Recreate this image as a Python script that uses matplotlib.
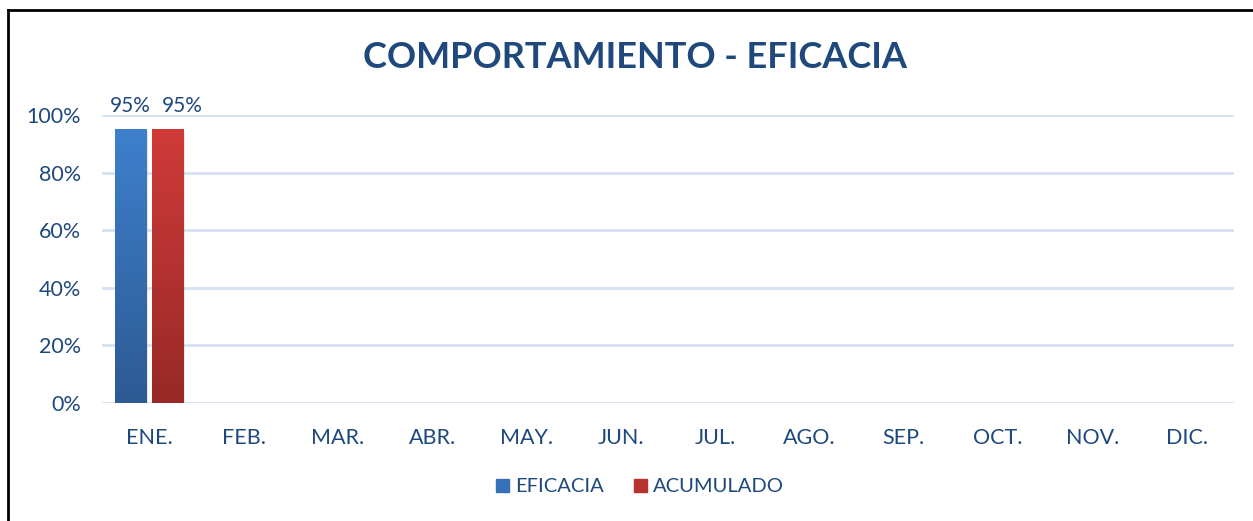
import numpy as np
import matplotlib
matplotlib.use('Agg')
from matplotlib import pyplot as plt
from matplotlib.patches import Rectangle
from matplotlib.colors import LinearSegmentedColormap

# data
months = ['ENE.', 'FEB.', 'MAR.', 'ABR.', 'MAY.', 'JUN.', 'JUL.', 'AGO.',
          'SEP.', 'OCT.', 'NOV.', 'DIC.']
eficacia = [0.95]
acumulado = [0.95]
series_names = ['EFICACIA', 'ACUMULADO']

TXT = '#1F497D'
plt.rcParams['font.family'] = ['Lato', 'DejaVu Sans']

fig = plt.figure(figsize=(12.53, 5.21), dpi=100)
ax = fig.add_axes([102 / 1253, 118 / 521, 1132 / 1253, 288 / 521])

# outer frame like the original sheet
fig.add_artist(plt.Line2D([8 / 1253, 8 / 1253], [0, 1 - 10 / 521],
                          transform=fig.transFigure, color='black', lw=2))
fig.add_artist(plt.Line2D([8 / 1253, 1], [1 - 10 / 521, 1 - 10 / 521],
                          transform=fig.transFigure, color='black', lw=2))

ax.set_xlim(-0.5, 11.5)
ax.set_ylim(0, 1.0)
for v in np.arange(0, 1.01, 0.2):
    ax.axhline(v, color='#D6E2F2', lw=2, zorder=0)

blue = LinearSegmentedColormap.from_list('b', ['#2D5A93', '#3E80CD'])
red = LinearSegmentedColormap.from_list('r', ['#972927', '#D03B39'])
width = 0.33
offsets = [-0.196, 0.19]
label_shift = [0.0, 0.16]   # excel nudged the second label to avoid overlap
grad = np.linspace(0, 1, 256).reshape(-1, 1)
for k, (vals, cmap) in enumerate([(eficacia, blue), (acumulado, red)]):
    off = offsets[k]
    for i, v in enumerate(vals):
        x0 = i + off - width / 2
        # faint shadow
        ax.add_patch(Rectangle((x0 + 0.02, -0.005), width, v, color='#BBBBBB',
                               alpha=0.35, lw=0, zorder=1))
        im = ax.imshow(grad, extent=(x0, x0 + width, 0, v), origin='lower',
                       cmap=cmap, aspect='auto', zorder=2)
        rect = Rectangle((x0, 0), width, v, transform=ax.transData,
                         fc='none', lw=0)
        ax.add_patch(rect)
        im.set_clip_path(rect)
        ax.text(i + off + label_shift[k], v + 0.045, '{:.0f}%'.format(v * 100),
                ha='center', va='bottom', fontsize=15, color=TXT)
ax.set_xlim(-0.5, 11.5)
ax.set_ylim(0, 1.0)

ax.set_xticks(range(len(months)))
ax.set_xticklabels(months)
ax.set_yticks(np.arange(0, 1.01, 0.2))
ax.set_yticklabels(['{:.0f}%'.format(v * 100) for v in np.arange(0, 1.01, 0.2)])
ax.tick_params(length=0, labelsize=15.5, labelcolor=TXT)
ax.tick_params(axis='x', pad=18)
ax.tick_params(axis='y', pad=15)
for s in ax.spines.values():
    s.set_visible(False)

fig.text(635 / 1253, 1 - 57 / 521, 'COMPORTAMIENTO - EFICACIA', ha='center',
         va='center', fontsize=26, fontweight='bold', color=TXT)

handles = [Rectangle((0, 0), 1, 1, color='#3670B8'),
           Rectangle((0, 0), 1, 1, color='#B83230')]
fig.legend(handles, series_names, loc='center', bbox_to_anchor=(640 / 1253, 1 - 487 / 521),
           ncol=2, frameon=False, fontsize=14.5, labelcolor=TXT, handlelength=0.65,
           handleheight=0.65, handletextpad=0.3, columnspacing=1.5)

fig.savefig('out.png', dpi=100)
